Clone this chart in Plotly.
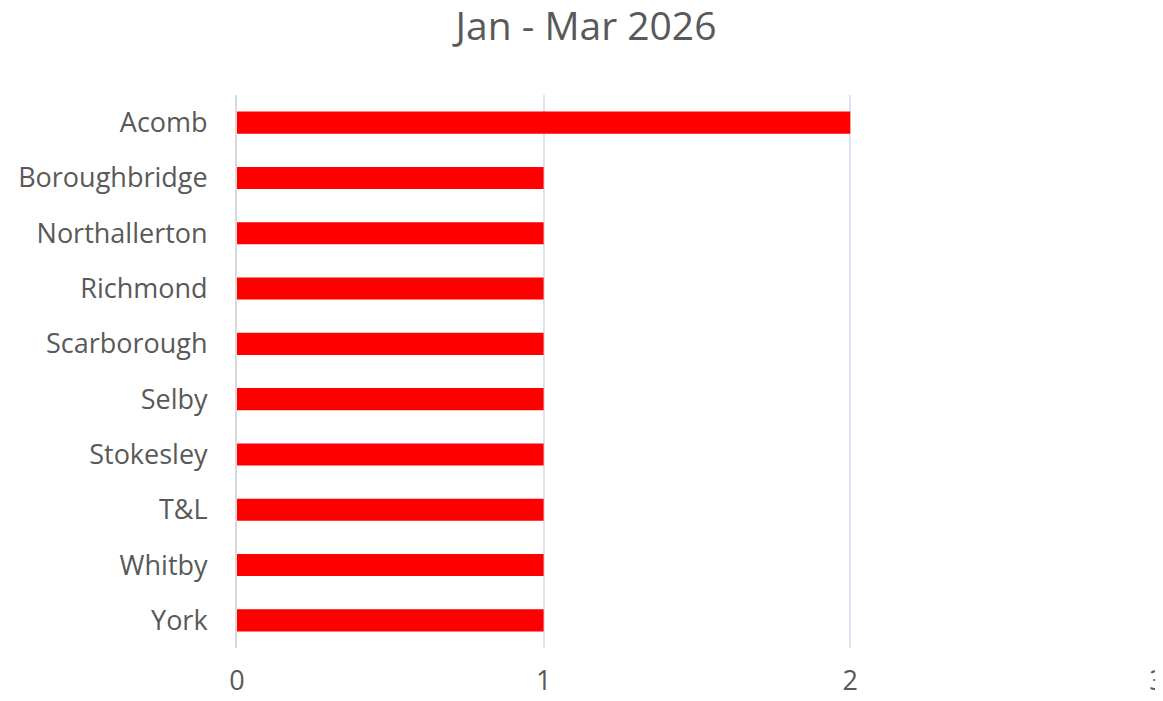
import plotly.graph_objects as go

categories = ["Acomb", "Boroughbridge", "Northallerton", "Richmond", "Scarborough",
              "Selby", "Stokesley", "T&L", "Whitby", "York"]
values = [2, 1, 1, 1, 1, 1, 1, 1, 1, 1]
x_ticks = [0, 1, 2, 3]
title_text = "Jan - Mar 2026"

font_family = "Open Sans, Liberation Sans, sans-serif"
text_color = "#595959"

fig = go.Figure(go.Bar(
    x=values,
    y=categories,
    orientation="h",
    marker=dict(color="#ff0000", line=dict(width=0)),
    width=0.4,
))

# page body has an 8px default margin; size the figure so the page does not overflow
fig.update_layout(
    width=1155,
    height=685,
    paper_bgcolor="white",
    plot_bgcolor="white",
    margin=dict(l=229, r=0, t=87, b=45, autoexpand=False),
    showlegend=False,
    title=dict(
        text=title_text,
        x=(586 - 8) / 1155,
        xanchor="center",
        xref="container",
        y=1 - 5 / 685,
        yref="container",
        yanchor="top",
        font=dict(family=font_family, size=39, color=text_color),
    ),
    font=dict(family=font_family, color=text_color),
)

fig.update_xaxes(
    range=[0, 3.02],
    tickvals=x_ticks,
    ticktext=[str(v) for v in x_ticks],
    showgrid=True,
    gridcolor="#dae3f3",
    gridwidth=2,
    zeroline=False,
    showline=False,
    ticks="",
    automargin=False,
    ticklabeloverflow="allow",
    ticklabelstandoff=14,
    tickfont=dict(family=font_family, size=27, color=text_color),
)

fig.update_yaxes(
    categoryorder="array",
    categoryarray=categories,
    autorange="reversed",
    showgrid=False,
    zeroline=False,
    showline=True,
    linecolor="#d9d9d9",
    linewidth=2,
    ticks="",
    automargin=False,
    ticklabelstandoff=22,
    tickfont=dict(family=font_family, size=27, color=text_color),
)

fig.write_html("out.html")
